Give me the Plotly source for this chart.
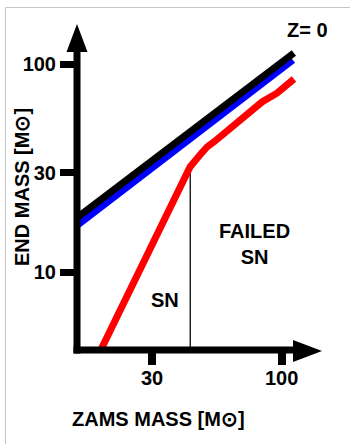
import numpy as np
import plotly.graph_objects as go

# ---- data (read from the schematic) ----
zams_black = [15.0, 112.0]
end_black = [18.3, 113.0]
zams_blue = [15.0, 111.0]
end_blue = [16.8, 104.5]
zams_red = [18.4, 42.7, 46.8, 50.0, 53.8, 61.9, 72.5, 83.3, 95.7, 112.1]
end_red = [4.08, 32.0, 36.5, 39.9, 42.6, 49.2, 58.1, 65.7, 72.4, 84.7]
sn_boundary_zams = [42.8, 42.8]
sn_boundary_end = [4.0, 32.0]
x_tick_vals = [30, 100]
x_tick_text = ["30", "100"]
y_tick_vals = [10, 30, 100]
y_tick_text = ["10", "30", "100"]

# ---- layout geometry ----
W, H = 350, 444
L, T, PW, PH = 77, 24, 245, 326
R, B = W - L - PW, H - T - PH
def X(px):
    return (px - L) / PW
def Y(py):
    return (T + PH - py) / PH

FONT = "Liberation Sans, Arial, sans-serif"
fs = 20

fig = go.Figure()
fig.add_trace(go.Scatter(x=sn_boundary_zams, y=sn_boundary_end, mode="lines",
                         line=dict(color="#222222", width=1.5), hoverinfo="skip"))
fig.add_trace(go.Scatter(x=zams_blue, y=end_blue, mode="lines",
                         line=dict(color="#0000ff", width=7), hoverinfo="skip"))
fig.add_trace(go.Scatter(x=zams_black, y=end_black, mode="lines",
                         line=dict(color="#000000", width=7), hoverinfo="skip"))
fig.add_trace(go.Scatter(x=zams_red, y=end_red, mode="lines",
                         line=dict(color="#ff0000", width=7), hoverinfo="skip"))

shapes = [
    # outer light frame
    dict(type="rect", xref="paper", yref="paper", x0=X(5.5), y0=Y(7.5), x1=X(420), y1=Y(520),
         line=dict(color="#c4c4c4", width=1), layer="below"),
    # y axis line
    dict(type="line", xref="paper", yref="paper", x0=0, x1=0, y0=Y(353.5), y1=Y(45),
         line=dict(color="black", width=7), layer="above"),
    # x axis line
    dict(type="line", xref="paper", yref="paper", x0=X(73.5), x1=X(300), y0=0, y1=0,
         line=dict(color="black", width=7), layer="above"),
    # arrowheads
    dict(type="path", xref="paper", yref="paper", xsizemode="pixel", ysizemode="pixel",
         xanchor=0, yanchor=1, path="M-10.5,-28 L0,0 L10.5,-28 Z",
         fillcolor="black", line=dict(width=0), layer="above"),
    dict(type="path", xref="paper", yref="paper", xsizemode="pixel", ysizemode="pixel",
         xanchor=1, yanchor=Y(351), path="M-29,11 L0,0 L-29,-11 Z",
         fillcolor="black", line=dict(width=0), layer="above"),
]

txt = dict(family=FONT, size=fs, color="black", weight="bold")
annotations = [
    dict(text="Z= 0", x=X(307), y=Y(30)),
    dict(text="FAILED<br>SN", x=X(254), y=Y(244)),
    dict(text="SN", x=X(165), y=Y(300)),
    dict(text="ZAMS MASS [M⊙]", x=X(158), y=Y(419)),
    dict(text="END MASS [M⊙]", x=X(22), y=Y(187), textangle=-90),
]
for a in annotations:
    a.update(xref="paper", yref="paper", showarrow=False, xanchor="center",
             yanchor="middle", font=txt)

fig.update_layout(
    width=W, height=H,
    margin=dict(l=L, r=R, t=T, b=B, pad=0),
    paper_bgcolor="white", plot_bgcolor="white",
    showlegend=False,
    shapes=shapes, annotations=annotations,
    xaxis=dict(type="log", range=[1.17468, 2.16259], showgrid=False, zeroline=False,
               showline=False, tickvals=x_tick_vals, ticktext=x_tick_text,
               ticks="outside", ticklen=14, tickwidth=8, tickcolor="black",
               ticklabelstandoff=-4,
               tickfont=txt, fixedrange=True),
    yaxis=dict(type="log", range=[0.625, 2.19231], showgrid=False, zeroline=False,
               showline=False, tickvals=y_tick_vals, ticktext=y_tick_text,
               ticks="outside", ticklen=16, tickwidth=7, tickcolor="black",
               tickfont=txt, fixedrange=True),
)

fig.write_html("out.html", config={"displayModeBar": False},
               post_script="document.body.style.margin='0';document.body.style.overflow='hidden';")
